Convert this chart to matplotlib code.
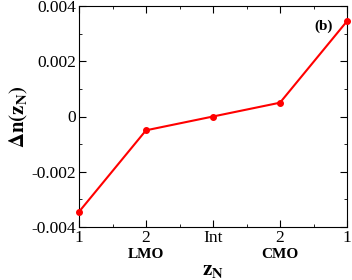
import matplotlib
matplotlib.use("Agg")
import matplotlib.pyplot as plt
from matplotlib.ticker import MultipleLocator

x = [1, 2, 3, 4, 5]
dn = [-0.00345, -0.0005, 0.0, 0.0005, 0.00345]
xticklabels = ["1", "2", "Int", "2", "1"]
region_labels = {2: "LMO", 4: "CMO"}

plt.rcParams['font.family'] = ['Liberation Serif', 'DejaVu Serif']
plt.rcParams['mathtext.fontset'] = 'stix'

fig = plt.figure(figsize=(3.52, 2.8), dpi=100)
ax = fig.add_axes([79/352, 1 - 227/280, (347-79)/352, (227-6)/280])
ax.plot(x, dn, color='red', lw=1.5, marker='o', ms=4, clip_on=False, zorder=3)
ax.set_xlim(1, 5)
ax.set_ylim(-0.004, 0.004)
ax.set_xticks(x)
ax.set_xticklabels(xticklabels)
ax.xaxis.set_minor_locator(MultipleLocator(0.5))
ax.yaxis.set_major_locator(MultipleLocator(0.002))
ax.yaxis.set_minor_locator(MultipleLocator(0.001))
ax.yaxis.set_major_formatter(plt.FuncFormatter(lambda v, p: '0' if abs(v) < 1e-9 else f'{v:.3f}'))
ax.tick_params(which='both', direction='in', top=True, right=True, labelsize=12.5, pad=2)
ax.tick_params(which='major', length=5)
ax.tick_params(which='minor', length=2.5)
for k, lab in region_labels.items():
    ax.text(k, -0.00475, lab, ha='center', va='top', fontweight='bold', fontsize=11)
ax.set_xlabel(r'$\mathbf{z_N}$', fontsize=15, labelpad=11)
ax.set_ylabel(r'$\mathbf{\Delta n(z_N)}$', fontsize=15, labelpad=1)
ax.text(0.945, 0.91, '(b)', transform=ax.transAxes, ha='right', va='center', fontweight='bold', fontsize=11)
fig.savefig('out.png', dpi=100)
